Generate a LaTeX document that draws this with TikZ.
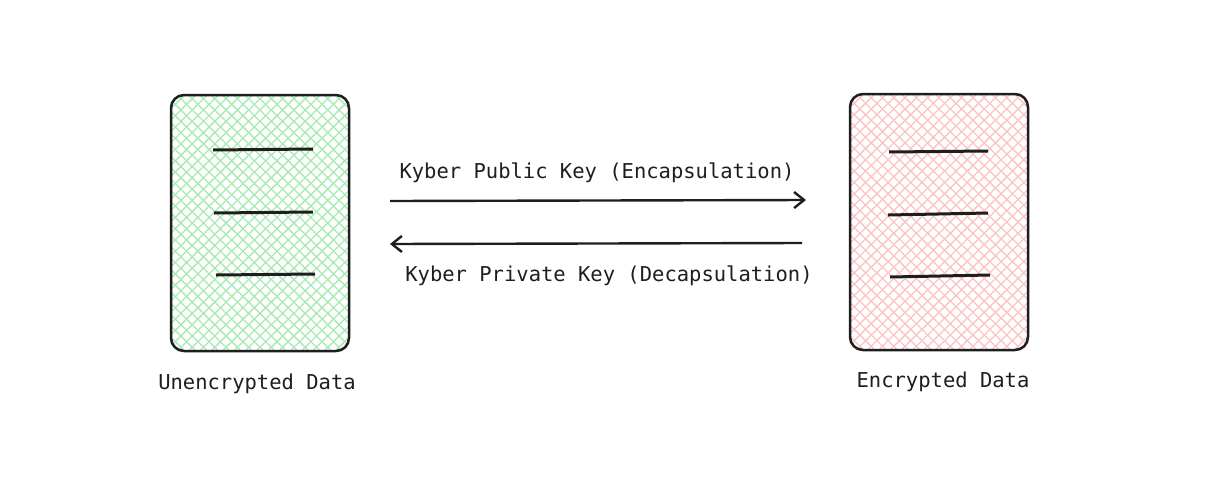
\documentclass[tikz,border=0pt]{standalone}
\usepackage{fontspec}
\setmonofont{DejaVu Sans Mono}
\usetikzlibrary{arrows.meta,calc}
\definecolor{ink}{HTML}{1E1E1E}
\definecolor{hgreen}{RGB}{168,234,180}
\definecolor{hpink}{RGB}{252,196,196}
\tikzset{
  x=1pt,y=-1pt,
  docbox/.style={draw=ink, line width=2.5pt, rounded corners=13pt, minimum width=178pt, minimum height=256pt, inner sep=0pt,
    path picture={
      \foreach \k in {-40,...,40}{
        \draw[#1, line width=1.3pt] ($(path picture bounding box.center)+(\k*11.3-200,-200)$) -- ++(400,400);
        \draw[#1, line width=1.3pt] ($(path picture bounding box.center)+(\k*11.3-200,200)$) -- ++(400,-400);
      }
    }},
  docline/.style={draw=ink, line width=3pt},
  flow/.style={draw=ink, line width=2.4pt, -{Straight Barb[length=10pt,width=16pt,line width=2.4pt]}},
  lbl/.style={font=\ttfamily\fontsize{20.5}{24}\selectfont, text=ink, inner sep=0pt}
}
\begin{document}
\begin{tikzpicture}
\useasboundingbox (0,0) rectangle (1224,488);
\fill[white] (0,0) rectangle (1224,488);
\node[docbox=hgreen] (L) at (260,223) {};
\node[docbox=hpink] (R) at (939,222) {};
% lines in left box
\coordinate (l1a) at (213,150); \coordinate (l1b) at (313,149);
\coordinate (l2a) at (214,213); \coordinate (l2b) at (313,212);
\coordinate (l3a) at (216,275); \coordinate (l3b) at (315,274);
\draw[docline] (l1a) -- (l1b);
\draw[docline] (l2a) -- (l2b);
\draw[docline] (l3a) -- (l3b);
% lines in right box
\coordinate (r1a) at (889,152); \coordinate (r1b) at (988,151);
\coordinate (r2a) at (888,215); \coordinate (r2b) at (988,213);
\coordinate (r3a) at (890,277); \coordinate (r3b) at (990,275);
\draw[docline] (r1a) -- (r1b);
\draw[docline] (r2a) -- (r2b);
\draw[docline] (r3a) -- (r3b);
% arrows
\coordinate (a1s) at (390,201); \coordinate (a1e) at (806,200);
\coordinate (a2s) at (802,243); \coordinate (a2e) at (390,244);
\draw[flow] (a1s) -- (a1e);
\draw[flow] (a2s) -- (a2e);
% labels
\node[lbl] (t1) at (597,173) {Kyber Public Key (Encapsulation)};
\node[lbl] (t2) at (609,276) {Kyber Private Key (Decapsulation)};
\node[lbl] (t3) at (257,384) {Unencrypted Data};
\node[lbl] (t4) at (943,382) {Encrypted Data};
\end{tikzpicture}
\end{document}
